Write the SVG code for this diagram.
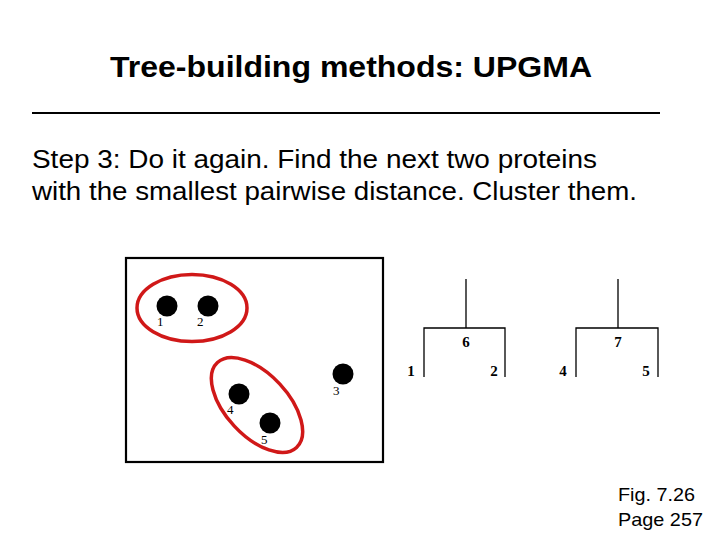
<svg xmlns="http://www.w3.org/2000/svg" width="720" height="540" viewBox="0 0 720 540">
<style>
.t{font-family:"Liberation Sans",Arial,sans-serif;fill:#000}
.n{font-family:"Liberation Serif","Times New Roman",serif;font-size:13px;fill:#000}
.nb{font-family:"Liberation Serif","Times New Roman",serif;font-size:15px;font-weight:bold;fill:#000;text-anchor:middle}
.dot{fill:#000}
.ring{fill:none;stroke:#d01818;stroke-width:3.5}
.ln{stroke:#000;stroke-width:1.3;fill:none}
</style>
<rect width="720" height="540" fill="#fff"/>
<text class="t" x="351" y="77" font-size="30" font-weight="bold" text-anchor="middle" textLength="482" lengthAdjust="spacingAndGlyphs">Tree-building methods: UPGMA</text>
<line x1="32" y1="113" x2="660" y2="113" stroke="#000" stroke-width="2"/>
<text class="t" x="32" y="168" font-size="25" textLength="565" lengthAdjust="spacingAndGlyphs">Step 3: Do it again. Find the next two proteins</text>
<text class="t" x="32" y="200" font-size="25" textLength="605" lengthAdjust="spacingAndGlyphs">with the smallest pairwise distance. Cluster them.</text>
<g id="panel">
<rect x="126" y="258" width="257" height="204" fill="none" stroke="#000" stroke-width="2.2"/>
</g>
<g id="p1"><circle class="dot" cx="167" cy="306" r="10.5"/><text class="n" x="157" y="326">1</text></g>
<g id="p2"><circle class="dot" cx="208" cy="306" r="10.5"/><text class="n" x="197" y="326">2</text></g>
<g id="p3"><circle class="dot" cx="343" cy="374" r="10.5"/><text class="n" x="333" y="395">3</text></g>
<g id="p4"><circle class="dot" cx="239" cy="394" r="10.5"/><text class="n" x="227" y="414">4</text></g>
<g id="p5"><circle class="dot" cx="270" cy="423" r="10.5"/><text class="n" x="261" y="444">5</text></g>
<g id="cluster12"><ellipse class="ring" cx="192" cy="308" rx="55" ry="33.5"/></g>
<g id="cluster45"><ellipse class="ring" cx="257" cy="405" rx="58" ry="31" transform="rotate(47 257 405)"/></g>
<g id="tree6">
<path class="ln" d="M466 279V328M424 377V328H505V377"/>
<text class="nb" x="466" y="347">6</text>
<text class="nb" x="411" y="376">1</text>
<text class="nb" x="494" y="376">2</text>
</g>
<g id="tree7">
<path class="ln" d="M618 279V328M576 377V328H658V377"/>
<text class="nb" x="618" y="347">7</text>
<text class="nb" x="563" y="376">4</text>
<text class="nb" x="646" y="376">5</text>
</g>
<text class="t" x="618" y="501" font-size="19" textLength="77" lengthAdjust="spacingAndGlyphs">Fig. 7.26</text>
<text class="t" x="618" y="526" font-size="19" textLength="85" lengthAdjust="spacingAndGlyphs">Page 257</text>
</svg>
